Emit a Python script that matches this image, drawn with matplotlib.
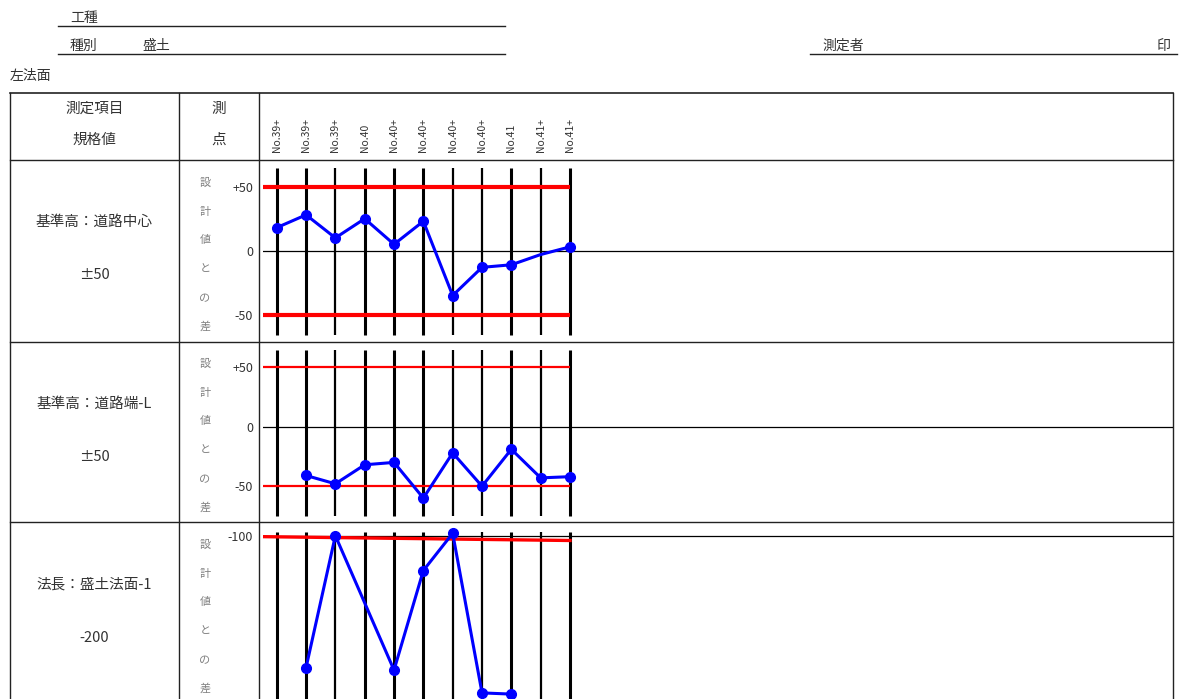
import numpy as np
import matplotlib

matplotlib.use("Agg")
import matplotlib.pyplot as plt

plt.rcParams["font.family"] = ["Noto Sans CJK JP", "DejaVu Sans"]

W, H = 1181, 699

# ---- data ----
stations = ["No.39+", "No.39+", "No.39+", "No.40", "No.40+", "No.40+",
            "No.40+", "No.40+", "No.41", "No.41+", "No.41+"]

items = ["基準高：道路中心", "基準高：道路端-L", "法長：盛土法面-1"]
specs = ["±50", "±50", "-200"]

center_diff = [18, 28, 10, 25, 5, 23, -35, -13, -11, -3, 3]
edge_diff = [np.nan, -41, -48, -32, -30, -60, -22, -50, -19, -43, -42]
slope_diff = [np.nan, -210, -100, np.nan, -212, -129, -98, -231, -232, np.nan, np.nan]

center_limits = [50, -50]
edge_limits = [50, -50]
slope_limit = [-100.8, -104.0]   # red line, start / end

center_ticks = [50, 0, -50]
center_ticklabels = ["+50", "0", "-50"]
edge_ticks = [50, 0, -50]
edge_ticklabels = ["+50", "0", "-50"]
slope_ticks = [-100]
slope_ticklabels = ["-100"]

# ---- layout (pixels) ----
fig = plt.figure(figsize=(W / 100, H / 100), dpi=100)
bg = fig.add_axes([0, 0, 1, 1])
bg.set_xlim(0, W)
bg.set_ylim(H, 0)
bg.axis("off")

ink = "#333333"
grey = "#808080"

# header
bg.plot([58, 505], [25.5, 25.5], color="#222222", lw=1.0)
bg.plot([58, 505], [54, 54], color="#222222", lw=1.0)
bg.plot([810, 1177], [53.5, 53.5], color="#222222", lw=1.0)
bg.text(70, 18, "工種", fontsize=10, color=ink, va="center")
bg.text(70, 46, "種別", fontsize=10, color=ink, va="center")
bg.text(142, 46, "盛土", fontsize=10, color=ink, va="center")
bg.text(822, 46, "測定者", fontsize=10, color=ink, va="center")
bg.text(1163, 46, "印", fontsize=10, color=ink, va="center", ha="center")
bg.text(10, 76, "左法面", fontsize=10, color=ink, va="center")

# table frame
L, R, T = 10, 1173, 93
rows = [160, 342, 522]
bg.plot([L, R], [T, T], color="#222222", lw=1.2)
for y in rows:
    bg.plot([L, R], [y, y], color="#222222", lw=1.0)
for x in [L, 179, 259, R]:
    bg.plot([x, x], [T, H + 5], color="#222222", lw=1.0)

bg.text(94.5, 109, "測定項目", fontsize=10.5, color=ink, ha="center", va="center")
bg.text(94.5, 140, "規格値", fontsize=10.5, color=ink, ha="center", va="center")
bg.text(219, 109, "測", fontsize=10.5, color=ink, ha="center", va="center")
bg.text(219, 140, "点", fontsize=10.5, color=ink, ha="center", va="center")

item_y = [(222, 275), (404, 457), (585, 638)]
for name, spec, (y1, y2) in zip(items, specs, item_y):
    bg.text(94.5, y1, name, fontsize=10.5, color=ink, ha="center", va="center")
    bg.text(94.5, y2, spec, fontsize=10.5, color=ink, ha="center", va="center")

diff_chars = ["設", "計", "値", "と", "の", "差"]
for top in [183, 364, 545]:
    for k, ch in enumerate(diff_chars):
        bg.text(205, top + k * 28.7, ch, fontsize=8, color=grey,
                ha="center", va="center")

# station x geometry
px0, dx = 276.7, 29.33
ax_left, ax_right = 263, 1173
xlim = ((ax_left - px0) / dx, (ax_right - px0) / dx)
idx = np.arange(len(stations))

for i, name in enumerate(stations):
    bg.text(px0 + i * dx, 152, name, fontsize=7.5, color=ink, rotation=90,
            ha="center", va="bottom")

vline_w = [2.2, 2.2, 1.6, 2.2, 2.2, 2.2, 1.6, 1.6, 2.2, 1.6, 2.2]


def panel(top, bottom, v0, y0px, scale, vfrac, values, limits, ticks, ticklabels,
          red_lw, skip_marker=()):
    ax = fig.add_axes([ax_left / W, 1 - bottom / H,
                       (ax_right - ax_left) / W, (bottom - top) / H])
    ax.patch.set_alpha(0)
    for s in ax.spines.values():
        s.set_visible(False)
    ax.set_xlim(*xlim)
    ax.set_ylim(v0 - (bottom - y0px) / scale, v0 + (y0px - top) / scale)
    ax.set_xticks([])
    ax.set_yticks(ticks)
    ax.set_yticklabels(ticklabels, fontsize=9, color=ink)
    ax.tick_params(axis="y", length=0, pad=7)

    ax.vlines(idx, vfrac[0], vfrac[1], colors="black", lw=vline_w,
              transform=ax.get_xaxis_transform(), zorder=2)
    ax.axhline(ticks[len(ticks) // 2] if len(ticks) > 1 else ticks[0],
               color="black", lw=0.9, zorder=1)
    if len(limits) == 2 and limits[0] > 0:
        for v in limits:
            ax.hlines(v, xlim[0], idx[-1], colors="#ff0000", lw=red_lw, zorder=3)
    else:
        ax.plot([xlim[0], idx[-1]], limits, color="#ff0000", lw=red_lw, zorder=3)

    vals = np.asarray(values, dtype=float)
    ok = ~np.isnan(vals)
    xs, ys = idx[ok], vals[ok]
    marks = [j for j, i in enumerate(xs) if i not in skip_marker]
    ax.plot(xs, ys, color="#0000ff", lw=2.2, marker="o", markersize=7,
            markevery=marks, zorder=4)
    return ax


panel(160, 342, 0, 250.7, 1.28, (0.038, 0.956), center_diff, center_limits,
      center_ticks, center_ticklabels, 3.0, skip_marker=(9,))
panel(342, 522, 0, 426.7, 1.19, (0.033, 0.956), edge_diff, edge_limits,
      edge_ticks, edge_ticklabels, 1.6)
panel(522, 699, -100, 535.7, 1.2, (0.0, 0.945), slope_diff, slope_limit,
      slope_ticks, slope_ticklabels, 2.4)

fig.savefig("out.png", dpi=100)
